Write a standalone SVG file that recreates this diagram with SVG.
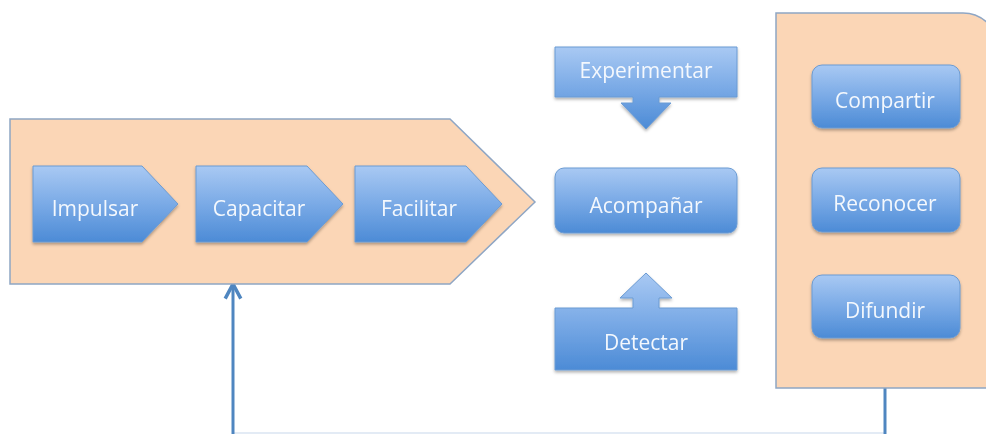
<svg xmlns="http://www.w3.org/2000/svg" width="986" height="434" viewBox="0 0 986 434">
<style>
.panel{fill:#fbd6b6;stroke:#8fa6c4;stroke-width:1.5}
.box{fill:url(#blue);stroke:#6b9bd3;stroke-width:1}
.lbl{font-family:"Open Sans","Liberation Sans",sans-serif;font-size:21px;fill:#f4f8fd;text-anchor:middle}
.conn{fill:none;stroke:#4f86c0;stroke-width:3}
</style>
<defs>
<linearGradient id="blue" x1="0" y1="0" x2="0" y2="1">
<stop offset="0" stop-color="#a9c9f3"/>
<stop offset="0.5" stop-color="#7aaae6"/>
<stop offset="1" stop-color="#4c8bd6"/>
</linearGradient>
<filter id="sh" x="-10%" y="-10%" width="120%" height="130%">
<feDropShadow dx="0" dy="2" stdDeviation="1.5" flood-color="#000" flood-opacity="0.3"/>
</filter>
<marker id="ah" viewBox="0 0 10 10" refX="8" refY="5" markerWidth="6.5" markerHeight="6.5" orient="auto" markerUnits="strokeWidth">
<path d="M1,1 L8.5,5 L1,9" fill="none" stroke="#4f86c0" stroke-width="1.8"/>
</marker>
</defs>
<rect width="986" height="434" fill="#ffffff"/>

<g id="connectors">
<line x1="233" y1="433" x2="885" y2="433" stroke="#e3ebf5" stroke-width="2"/>
<line class="conn" x1="885" y1="388" x2="885" y2="434"/>
<line class="conn" x1="233" y1="434" x2="233" y2="285" marker-end="url(#ah)"/>
</g>

<g id="panel-left">
<polygon class="panel" points="10,119 450,119 535,202 450,284 10,284"/>
</g>
<g id="panel-right">
<path class="panel" d="M776,13 H963 A35,35 0 0 1 998,48 V388 H776 Z"/>
</g>

<g id="impulsar" filter="url(#sh)">
<polygon class="box" points="33,166 142,166 178,204 142,242 33,242"/>
<text class="lbl" x="95" y="216">Impulsar</text>
</g>
<g id="capacitar" filter="url(#sh)">
<polygon class="box" points="196,166 307,166 343,204 307,242 196,242"/>
<text class="lbl" x="259" y="216">Capacitar</text>
</g>
<g id="facilitar" filter="url(#sh)">
<polygon class="box" points="355,166 466,166 502,204 466,242 355,242"/>
<text class="lbl" x="419" y="216">Facilitar</text>
</g>

<g id="experimentar" filter="url(#sh)">
<path class="box" d="M555,47 H737 V97 H659 V103 H671 L646,129 L621,103 H633 V97 H555 Z"/>
<text class="lbl" x="646" y="78">Experimentar</text>
</g>
<g id="acompanar" filter="url(#sh)">
<rect class="box" x="555" y="168" width="182" height="65" rx="9"/>
<text class="lbl" x="646" y="213">Acompañar</text>
</g>
<g id="detectar" filter="url(#sh)">
<path class="box" d="M555,308 H633 V298 H620 L646,273 L672,298 H659 V308 H737 V370 H555 Z"/>
<text class="lbl" x="646" y="350">Detectar</text>
</g>

<g id="compartir" filter="url(#sh)">
<rect class="box" x="812" y="65" width="148" height="63" rx="10"/>
<text class="lbl" x="885" y="108">Compartir</text>
</g>
<g id="reconocer" filter="url(#sh)">
<rect class="box" x="812" y="168" width="148" height="64" rx="10"/>
<text class="lbl" x="885" y="211">Reconocer</text>
</g>
<g id="difundir" filter="url(#sh)">
<rect class="box" x="812" y="275" width="148" height="63" rx="10"/>
<text class="lbl" x="885" y="318">Difundir</text>
</g>
</svg>
